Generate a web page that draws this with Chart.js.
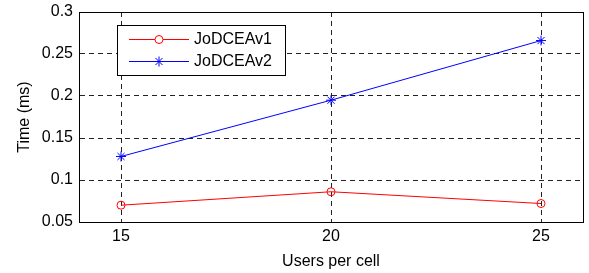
<!DOCTYPE html>
<html>
<head>
<meta charset="utf-8">
<script src="https://cdn.jsdelivr.net/npm/chart.js@4.4.1/dist/chart.umd.min.js"></script>
<style>
    html, body { margin: 0; padding: 0; background: #fff; }
    #wrap { width: 589px; height: 273px; }
</style>
</head>
<body>
<div id="wrap"><canvas id="chart"></canvas></div>
<script>
const usersPerCell = [15, 20, 25];
const jodceav1 = [0.070, 0.086, 0.072];
const jodceav2 = [0.128, 0.195, 0.266];
const xTicks = [15, 20, 25];
const yTicks = [0.05, 0.1, 0.15, 0.2, 0.25, 0.3];
const seriesNames = ['JoDCEAv1', 'JoDCEAv2'];
const seriesColors = ['#ff0000', '#0000ff'];
const seriesMarkers = ['circle', 'star'];

const FONT = '"Liberation Sans", Arial, Helvetica, sans-serif';

// box border on top / right and the legend, drawn like matlab does it
const boxAndLegend = {
    id: 'boxAndLegend',
    afterDraw(chart) {
        const ctx = chart.ctx;
        const a = chart.chartArea;
        ctx.save();
        ctx.strokeStyle = '#000';
        ctx.lineWidth = 1;
        ctx.setLineDash([]);
        ctx.strokeRect(Math.round(a.left) + 0.5, Math.round(a.top) + 0.5,
            Math.round(a.right - a.left), Math.round(a.bottom - a.top));

        // legend
        const lx = 117.5, ly = 25.5, lw = 168, lh = 50;
        ctx.fillStyle = '#fff';
        ctx.fillRect(lx, ly, lw, lh);
        ctx.strokeStyle = '#000';
        ctx.strokeRect(lx, ly, lw, lh);
        seriesNames.forEach((name, i) => {
            const y = 39.5 + i * 22;
            const col = seriesColors[i];
            ctx.fillStyle = col;
            ctx.fillRect(129, y - 0.5, 60, 1);
            ctx.lineWidth = 1;
            ctx.strokeStyle = col;
            if (i === 0) {
                ctx.fillStyle = '#fff';
                ctx.beginPath();
                ctx.arc(159, y, 4, 0, Math.PI * 2);
                ctx.fill();
                ctx.stroke();
            } else {
                Chart.helpers.drawPoint(ctx, {
                    pointStyle: seriesMarkers[i],
                    radius: 5,
                    rotation: 0,
                    borderWidth: 1
                }, 159, y);
            }
            ctx.fillStyle = '#000';
            ctx.font = '16px ' + FONT;
            ctx.textBaseline = 'middle';
            ctx.textAlign = 'left';
            ctx.fillText(name, 194, y + 0.5);
        });
        ctx.restore();
    }
};

new Chart(document.getElementById('chart'), {
    type: 'line',
    data: {
        datasets: [{
            label: seriesNames[0],
            data: usersPerCell.map((x, i) => ({ x: x, y: jodceav1[i] })),
            borderColor: seriesColors[0],
            borderWidth: 1,
            pointStyle: seriesMarkers[0],
            pointRadius: 4,
            pointBorderColor: seriesColors[0],
            pointBackgroundColor: 'rgba(0,0,0,0)',
            pointBorderWidth: 1,
            tension: 0
        }, {
            label: seriesNames[1],
            data: usersPerCell.map((x, i) => ({ x: x, y: jodceav2[i] })),
            borderColor: seriesColors[1],
            borderWidth: 1,
            pointStyle: seriesMarkers[1],
            pointRadius: 5,
            pointBorderColor: seriesColors[1],
            pointBackgroundColor: seriesColors[1],
            pointBorderWidth: 1,
            tension: 0
        }]
    },
    options: {
        responsive: true,
        maintainAspectRatio: false,
        animation: false,
        events: [],
        layout: { padding: { top: 12, right: 6, left: 0, bottom: 0 } },
        plugins: {
            legend: { display: false },
            tooltip: { enabled: false }
        },
        scales: {
            x: {
                type: 'linear',
                min: 14,
                max: 26,
                afterBuildTicks: s => { s.ticks = xTicks.map(v => ({ value: v })); },
                afterFit: s => {
                    s.height = 51;
                    s.paddingLeft = 0;
                    s.paddingRight = 0;
                },
                border: { display: true, color: '#000', width: 1, dash: [5, 4] },
                grid: {
                    color: '#222',
                    lineWidth: 1,
                    drawTicks: false
                },
                ticks: {
                    color: '#000',
                    padding: 5,
                    font: { family: FONT, size: 16 }
                },
                title: {
                    display: true,
                    text: 'Users per cell',
                    color: '#000',
                    font: { family: FONT, size: 16 },
                    padding: { top: 0, bottom: 2 }
                }
            },
            y: {
                type: 'linear',
                min: 0.05,
                max: 0.3,
                afterBuildTicks: s => { s.ticks = yTicks.map(v => ({ value: v })); },
                afterFit: s => {
                    s.width = 79;
                    s.paddingTop = 0;
                    s.paddingBottom = 0;
                },
                border: { display: true, color: '#000', width: 1, dash: [5, 4] },
                grid: {
                    color: '#222',
                    lineWidth: 1,
                    drawTicks: false
                },
                ticks: {
                    color: '#000',
                    padding: 6,
                    font: { family: FONT, size: 16 },
                    callback: v => String(+v.toFixed(2))
                },
                title: {
                    display: true,
                    text: 'Time (ms)',
                    color: '#000',
                    font: { family: FONT, size: 16 },
                    padding: { top: 15, bottom: 0 }
                }
            }
        }
    },
    plugins: [boxAndLegend]
});
</script>
</body>
</html>
